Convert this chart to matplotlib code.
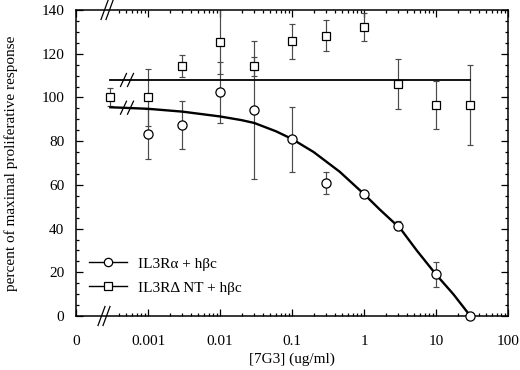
import matplotlib
matplotlib.use("Agg")
import matplotlib.pyplot as plt
from matplotlib.lines import Line2D
from matplotlib.ticker import FixedLocator, NullFormatter

plt.rcParams['font.family'] = ['Liberation Serif', 'DejaVu Serif']
plt.rcParams['font.size'] = 11

# ---- data ----
circ_x = [0.001, 0.003, 0.01, 0.03, 0.1, 0.3, 1, 3, 10, 30]
circ_y = [83.2, 87.3, 102.4, 94.1, 80.8, 60.8, 55.8, 41.4, 19.0, 0.0]
circ_err = [11.4, 11.0, 14.0, 31.5, 15.0, 5.0, 0.0, 2.0, 5.8, 0.0]

sq_x = [0.0003, 0.001, 0.003, 0.01, 0.03, 0.1, 0.3, 1, 3, 10, 30]
sq_y = [100.1, 100.1, 114.5, 125.5, 114.2, 125.8, 128.2, 132.1, 106.1, 96.5, 96.5]
sq_err = [4.0, 13.0, 5.0, 15.0, 4.5, 8.0, 7.0, 6.5, 11.3, 11.0, 18.3]

fit_a_x = [0.0003, 0.001, 0.003, 0.01, 0.02, 0.03, 0.06, 0.1, 0.2, 0.46, 1, 1.67, 3.2, 5.4, 10, 17.4, 30]
fit_a_y = [95.5, 94.8, 93.5, 91.3, 89.6, 88.3, 84.5, 81.0, 75.0, 66.0, 55.8, 48.6, 40.0, 30.0, 19.0, 10.0, 0.0]

fit_b_x = [0.0003, 30]
fit_b_y = [108.0, 108.0]

xtick_vals = [1e-4, 1e-3, 1e-2, 1e-1, 1, 10, 100]
xtick_labels = ['0', '0.001', '0.01', '0.1', '1', '10', '100']
ytick_vals = [0, 20, 40, 60, 80, 100, 120, 140]

legend_labels = ['IL3R\u03b1 + h\u03b2c', 'IL3R\u0394 NT + h\u03b2c']

# ---- figure ----
fig = plt.figure(figsize=(5.2, 3.7), dpi=100)
ax = fig.add_axes([76/520, 1-316/370, 432/520, 306/370])
ax.set_xscale('log')
ax.set_xlim(1e-4, 100)
ax.set_ylim(0, 140)

ecol = '#4a4a4a'
ax.errorbar(sq_x, sq_y, yerr=sq_err, fmt='none', ecolor=ecol, elinewidth=0.85,
            capsize=2.5, capthick=0.85, zorder=2, clip_on=True)
ax.errorbar(circ_x, circ_y, yerr=circ_err, fmt='none', ecolor=ecol, elinewidth=0.85,
            capsize=2.5, capthick=0.85, zorder=2, clip_on=True)

ax.plot(fit_b_x, fit_b_y, color='black', lw=1.3, zorder=3)
ax.plot(fit_a_x, fit_a_y, color='black', lw=1.7, zorder=3)

ax.plot(sq_x, sq_y, linestyle='none', marker='s', ms=6, mfc='white', mec='black',
        mew=0.9, zorder=4, clip_on=False)
ax.plot(circ_x, circ_y, linestyle='none', marker='o', ms=6.6, mfc='white', mec='black',
        mew=0.9, zorder=4, clip_on=False)

# ticks
ax.xaxis.set_major_locator(FixedLocator(xtick_vals))
ax.set_xticklabels(xtick_labels)
minors = [m * 1e-4 for m in range(4, 10)]
for d in [1e-3, 1e-2, 1e-1, 1, 10]:
    minors += [m * d for m in range(2, 10)]
ax.xaxis.set_minor_locator(FixedLocator(minors))
ax.xaxis.set_minor_formatter(NullFormatter())
ax.set_yticks(ytick_vals)
ax.set_yticks(list(range(0, 141, 5)), minor=True)
ax.tick_params(which='both', direction='in', top=True, right=True, width=0.9)
ax.tick_params(which='major', length=5)
ax.tick_params(which='minor', length=2.5)
ax.tick_params(axis='x', which='major', pad=14)
ax.tick_params(axis='y', which='major', pad=8.5)
for s in ax.spines.values():
    s.set_linewidth(1.1)

ax.set_xlabel('[7G3] (ug/ml)', labelpad=3)
ax.set_ylabel('percent of maximal proliferative response', labelpad=17)

# break marks (decorations, in pixel-based axes fractions)
W, H = 432.0, 306.0
def slashes(cx, cy, dx, dy, gap, lw):
    for off in (-gap/2, gap/2):
        x0 = (cx + off - dx/2) / W
        x1 = (cx + off + dx/2) / W
        y0 = (cy - dy/2) / H
        y1 = (cy + dy/2) / H
        ax.plot([x0, x1], [y0, y1], transform=ax.transAxes, color='black',
                lw=lw, clip_on=False, zorder=5)

slashes(28, 0, 7, 19, 5, 0.9)       # bottom axis
slashes(31, H, 7, 19, 5, 0.9)       # top axis
slashes(51, 108/140*H, 6, 13, 7, 0.9)
slashes(51, 95.3/140*H, 6, 13, 7, 0.9)

# legend
h1 = Line2D([], [], color='black', lw=1.0, marker='o', ms=6, mfc='white', mec='black', mew=0.9)
h2 = Line2D([], [], color='black', lw=1.0, marker='s', ms=5.5, mfc='white', mec='black', mew=0.9)
ax.legend([h1, h2], legend_labels, loc='upper left',
          bbox_to_anchor=((89-76)/W, (316-257)/H), frameon=False,
          borderpad=0, borderaxespad=0, handlelength=2.5, handletextpad=0.7,
          labelspacing=0.68, fontsize=11)

fig.savefig('out.png', dpi=100)
